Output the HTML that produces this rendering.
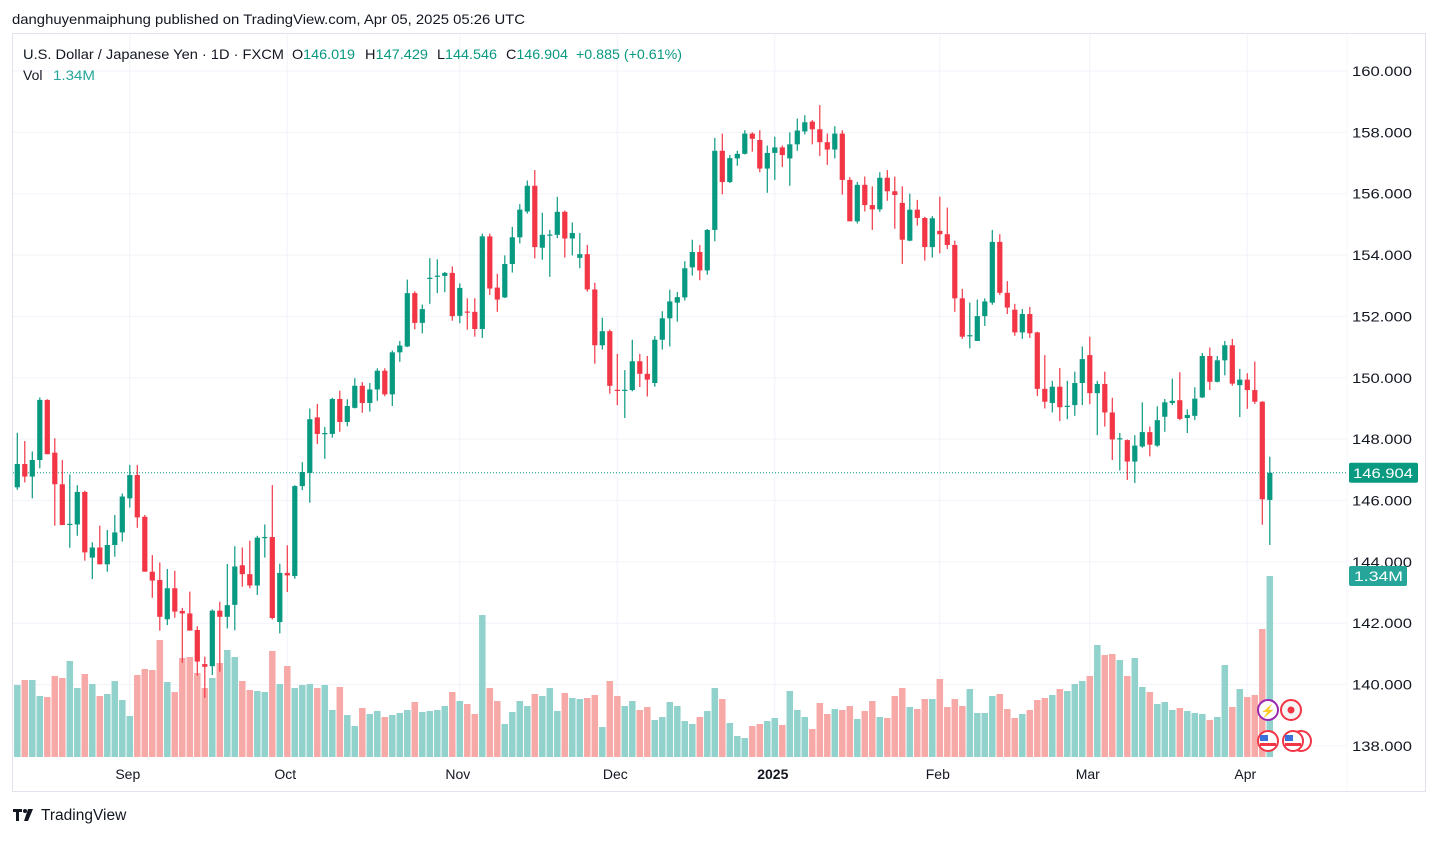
<!DOCTYPE html>
<html><head><meta charset="utf-8">
<style>
html,body{margin:0;padding:0;background:#fff;}
body{width:1438px;height:836px;overflow:hidden;font-family:"Liberation Sans",sans-serif;color:#131722;}
svg text{font-family:"Liberation Sans",sans-serif;}
</style></head>
<body>
<svg id="chart" width="1438" height="836" xmlns="http://www.w3.org/2000/svg">
  <text x="12" y="24" font-size="14" fill="#131722" textLength="513" lengthAdjust="spacingAndGlyphs">danghuyenmaiphung published on TradingView.com, Apr 05, 2025 05:26 UTC</text>
  <rect x="12.5" y="33.5" width="1413" height="758" fill="none" stroke="#e0e3eb"/>
  <g id="grid"></g>
  <g id="volumes"></g>
  <line x1="13" x2="1347" y1="0" y2="0" id="lastline" stroke="#089981" stroke-width="1" stroke-dasharray="1,2"/>
  <g id="candles"></g>
  <g id="yaxis"></g>
  <g id="xaxis"></g>
  <g font-size="14">
    <text x="23" y="59" fill="#131722" textLength="261" lengthAdjust="spacingAndGlyphs">U.S. Dollar / Japanese Yen · 1D · FXCM</text>
    <text x="292" y="59" fill="#131722" textLength="63" lengthAdjust="spacingAndGlyphs">O<tspan fill="#089981">146.019</tspan></text>
    <text x="365" y="59" fill="#131722" textLength="63" lengthAdjust="spacingAndGlyphs">H<tspan fill="#089981">147.429</tspan></text>
    <text x="437" y="59" fill="#131722" textLength="60" lengthAdjust="spacingAndGlyphs">L<tspan fill="#089981">144.546</tspan></text>
    <text x="506" y="59" fill="#131722" textLength="62" lengthAdjust="spacingAndGlyphs">C<tspan fill="#089981">146.904</tspan></text>
    <text x="576" y="59" fill="#089981" textLength="106" lengthAdjust="spacingAndGlyphs">+0.885 (+0.61%)</text>
    <text x="23" y="80" fill="#131722">Vol</text>
    <text x="53" y="80" fill="#26a69a" textLength="42" lengthAdjust="spacingAndGlyphs">1.34M</text>
  </g>
  <g>
    <circle cx="1268" cy="710" r="10" fill="#fff" stroke="#9c27b0" stroke-width="2"/>
    <text x="1268" y="715" font-size="12" text-anchor="middle" fill="#9c27b0">⚡</text>
    <circle cx="1291" cy="710" r="10" fill="#f5f5f5" stroke="#f23645" stroke-width="2"/>
    <circle cx="1291" cy="710" r="3.5" fill="#f23645"/>
    <circle cx="1301" cy="741" r="10" fill="#fff" stroke="#f23645" stroke-width="2"/>
    <circle cx="1293" cy="741" r="10" fill="#fff" stroke="#f23645" stroke-width="2"/>
    <rect x="1285" y="735" width="8" height="6" fill="#3b6fd9"/>
    <rect x="1285" y="743" width="16" height="3" fill="#f23645"/>
    <circle cx="1268" cy="741" r="10" fill="#fff" stroke="#f23645" stroke-width="2"/>
    <rect x="1260" y="735" width="8" height="6" fill="#3b6fd9"/>
    <rect x="1260" y="743" width="16" height="3" fill="#f23645"/>
  </g>
  <g>
    <path d="M13 809h9v3h-3v9h-3v-9h-3z" fill="#131722"/>
    <circle cx="25" cy="811" r="2" fill="#131722"/>
    <path d="M28 809h5l-5 12h-4z" fill="#131722"/>
    <text x="41" y="820" font-size="15.5" fill="#131722">TradingView</text>
  </g>
</svg>
<script>
const opens=[146.43,147.19,146.78,147.32,149.28,147.56,146.53,145.23,145.22,146.28,144.14,144.47,143.92,144.55,144.96,146.07,146.83,145.47,143.68,143.41,142.13,143.14,142.40,142.32,141.78,140.67,140.6,142.41,142.21,142.6,143.89,143.6,143.23,144.79,144.81,142.04,143.64,143.54,146.47,146.9,148.71,148.19,148.17,149.31,148.56,149.02,149.74,149.18,149.62,150.23,149.46,150.83,151.02,152.76,151.79,153.24,153.31,153.32,153.42,152.02,152.16,152.15,151.59,154.61,152.94,152.62,153.71,154.58,155.42,156.26,154.24,154.65,154.66,155.41,154.54,153.91,154.03,152.88,151.06,151.52,149.61,149.59,149.6,150.54,150.13,149.83,151.24,151.94,152.45,152.62,153.6,154.1,153.5,154.82,157.4,156.38,157.15,157.3,157.96,157.75,156.82,157.33,157.51,157.15,157.61,158.03,158.35,158.1,157.68,157.44,157.96,156.45,155.1,156.29,155.63,155.49,156.52,156.08,155.7,154.47,155.48,155.21,154.26,154.79,154.68,154.33,152.59,151.37,151.2,152.01,152.45,154.43,152.77,152.22,151.48,152.08,151.48,149.64,149.18,149.71,149.07,149.11,149.83,150.74,149.5,149.8,148.87,148.01,147.97,147.27,147.76,148.23,147.79,148.73,149.18,149.27,148.69,148.76,149.36,150.71,149.87,150.57,151.06,149.76,149.94,149.6,149.22,146.02];
const highs=[148.21,147.94,147.6,149.36,149.3,148.03,147.32,146.85,146.5,146.32,144.64,145.18,145.04,145.53,146.23,147.16,147.16,145.53,144.22,143.98,143.77,143.71,142.5,143.03,141.9,140.91,142.45,142.70,143.93,144.51,144.47,144.69,144.85,145.22,146.5,143.94,144.54,146.5,147.25,149.0,149.15,148.4,149.35,149.58,149.3,149.99,149.86,149.83,150.31,150.31,150.89,151.2,153.2,152.82,152.39,153.9,153.86,153.45,153.63,153.08,152.59,152.59,154.7,154.7,153.39,153.99,154.92,155.66,156.43,156.77,155.38,154.82,155.9,155.45,155.06,154.72,154.33,153.1,151.96,151.57,150.78,150.25,151.24,150.78,150.71,151.36,152.17,152.87,152.8,153.8,154.5,154.33,154.85,157.82,157.96,157.26,157.4,158.07,158.0,158.07,157.57,157.86,157.57,158.0,158.45,158.56,158.4,158.89,157.96,158.2,158.07,156.54,156.38,156.56,156.24,156.7,156.77,156.56,156.24,156.0,155.8,155.25,155.27,155.9,155.55,154.47,152.9,152.45,152.55,152.59,154.82,154.68,153.15,152.41,152.24,152.31,151.5,150.74,149.9,150.32,149.9,150.2,151.02,151.34,149.9,150.2,149.35,148.2,147.99,148.13,149.2,148.41,149.07,149.31,149.97,150.18,148.97,149.69,150.81,150.99,150.71,151.2,151.27,150.29,150.15,150.53,149.24,147.43];
const lows=[146.35,146.59,146.07,147.05,147.51,145.18,145.2,144.46,144.85,144.04,143.44,143.92,143.68,144.17,144.66,145.77,145.11,143.68,142.83,141.76,141.94,142.18,140.71,141.76,140.29,139.57,140.31,140.42,141.83,141.77,143.19,143.14,142.92,144.14,142.12,141.67,143.02,143.45,146.34,145.93,147.84,147.36,148.05,148.24,148.42,149.0,148.86,148.9,149.25,149.4,149.08,150.52,151.0,151.58,151.45,152.41,152.76,152.79,151.86,151.78,151.57,151.34,151.3,152.7,152.15,152.6,153.43,154.38,155.35,153.89,153.85,153.29,154.55,153.92,153.99,153.57,152.81,150.46,150.92,149.48,149.11,148.69,149.56,149.7,149.39,149.71,150.92,151.02,151.83,152.52,153.33,153.18,153.36,154.45,155.98,156.35,156.91,157.28,157.37,156.7,156.03,156.45,156.87,156.26,157.4,157.93,157.61,157.23,156.94,157.15,155.97,155.1,155.03,155.42,154.82,155.41,155.77,154.86,153.71,154.45,154.96,153.82,153.92,154.06,154.2,152.15,151.27,150.96,151.2,151.69,152.38,152.7,152.08,151.37,151.27,151.3,149.41,149.0,148.87,148.59,148.65,148.76,149.11,149.14,148.13,148.41,147.32,146.98,146.67,146.57,147.72,147.44,147.75,148.24,149.11,148.62,148.2,148.62,149.34,149.6,149.85,150.08,149.74,148.72,148.99,149.15,145.21,144.55];
const closes=[147.19,146.78,147.32,149.28,147.51,146.53,145.2,145.24,146.28,144.31,144.47,143.92,144.55,144.96,146.13,146.83,145.45,143.68,143.39,142.21,143.14,142.38,142.32,141.76,140.75,140.58,142.41,142.21,142.59,143.85,143.6,143.23,144.79,144.81,142.17,143.64,143.56,146.47,146.93,148.65,148.17,148.2,149.31,148.56,149.08,149.74,149.18,149.62,150.23,149.46,150.83,151.05,152.76,151.79,152.24,153.26,153.33,153.42,152.01,152.93,152.14,151.59,154.61,152.91,152.55,153.71,154.58,155.48,156.26,154.26,154.66,154.67,155.41,154.54,154.72,154.03,152.88,151.06,151.52,149.74,149.59,149.61,150.54,150.13,149.94,151.24,151.94,152.49,152.63,153.57,154.1,153.5,154.82,157.4,156.38,157.16,157.3,157.96,157.79,156.82,157.33,157.51,157.26,157.61,158.06,158.33,158.1,157.68,157.44,157.96,156.45,155.1,156.29,155.63,155.49,156.52,156.08,155.96,154.5,155.48,155.21,154.26,155.2,154.68,154.33,152.59,151.34,151.39,152.01,152.49,154.43,152.77,152.29,151.48,152.08,151.45,149.64,149.22,149.71,149.04,149.09,149.83,150.61,149.5,149.8,148.87,147.99,148.03,147.27,147.79,148.23,147.82,148.62,149.2,149.25,148.66,148.79,149.32,150.71,149.87,150.57,151.06,149.81,149.94,149.6,149.22,146.04,146.904];
const volumes=[72,77,77,61,60,81,79,96,69,83,73,61,63,76,57,41,82,88,87,117,75,65,99,100,84,69,79,94,107,100,76,67,66,65,106,73,91,69,72,73,69,72,47,70,42,31,49,43,46,40,42,44,47,55,45,46,47,51,65,56,53,43,142,69,56,33,45,56,51,63,61,69,46,64,59,58,59,62,30,76,61,51,56,47,50,37,40,55,51,36,33,40,46,69,58,34,21,19,31,33,36,39,32,66,47,40,28,54,43,48,47,51,38,46,56,40,39,61,69,50,48,58,58,78,50,58,51,68,44,44,61,63,48,39,43,47,57,59,62,68,66,73,76,81,112,102,103,97,81,99,70,65,53,55,47,49,46,44,43,37,40,92,50,68,60,62,128,181];
const priceTicks=[160,158,156,154,152,150,148,146,144,142,140,138];
const monthLabels=["Sep","Oct","Nov","Dec","2025","Feb","Mar","Apr"];
const monthIndex=[15,36,59,80,101,123,143,164];
const lastPrice=146.904;
const lastVolumeLabel="1.34M";

const NS="http://www.w3.org/2000/svg";
function xS(i){return 17.3+i*7.5;}
function yS(p){return 71+(160-p)*30.68;}
const VOL_BASE=757, VOL_MAX=181;
function vS(v){return v/VOL_MAX*181;}
function mk(tag,attrs,parent){const e=document.createElementNS(NS,tag);for(const k in attrs)e.setAttribute(k,attrs[k]);parent.appendChild(e);return e;}

const grid=document.getElementById('grid');
priceTicks.forEach(function(t){
  const l=mk('line',{x1:13,x2:1347,y1:yS(t),y2:yS(t),stroke:'#f0f3fa'},grid);
  
  
});
monthIndex.forEach(function(i){
  const l=mk('line',{x1:xS(i),x2:xS(i),y1:34,y2:757,stroke:'#f0f3fa'},grid);
  
  
});
mk('line',{x1:1347,x2:1347,y1:34,y2:791,stroke:'#f6f7f9'},grid);

const vg=document.getElementById('volumes');
volumes.forEach(function(v,i){
  const up=closes[i]>=opens[i];
  const h=vS(v);
  const r=mk('rect',{x:xS(i)-3.25,y:VOL_BASE-h,width:6.5,height:h,fill:up?'#92d2cc':'#f7a9a7'},vg);
  
  
});

const cg=document.getElementById('candles');
opens.forEach(function(o,i){
  const c=closes[i],up=c>=o,col=up?'#089981':'#f23645';
  const g=mk('g',{},cg);
  
  
  mk('line',{x1:xS(i),x2:xS(i),y1:yS(highs[i]),y2:yS(lows[i]),stroke:col,'stroke-width':1.2},g);
  const top=yS(Math.max(o,c)),bot=yS(Math.min(o,c));
  mk('rect',{x:xS(i)-2.6,y:top,width:5.2,height:Math.max(1.2,bot-top),fill:col},g);
});

const ll=document.getElementById('lastline');
ll.setAttribute('y1',yS(lastPrice));ll.setAttribute('y2',yS(lastPrice));

const ya=document.getElementById('yaxis');
priceTicks.forEach(function(t){
  const tx=mk('text',{x:1352,y:yS(t)+5,'font-size':14,fill:'#131722',textLength:60,lengthAdjust:'spacingAndGlyphs'},ya);
  tx.textContent=t.toFixed(3);
  
  
});
const pb=mk('rect',{x:1349,y:yS(lastPrice)-10,width:69,height:20,fill:'#089981',rx:2},ya);


const pt=mk('text',{x:1353,y:yS(lastPrice)+5,'font-size':14,fill:'#fff',textLength:60,lengthAdjust:'spacingAndGlyphs'},ya);
pt.textContent=lastPrice.toFixed(3);


const vbY=VOL_BASE-vS(volumes[volumes.length-1]);
const vb=mk('rect',{x:1349,y:vbY-10,width:58,height:20,fill:'#26a69a',rx:2},ya);


const vt=mk('text',{x:1354,y:vbY+5,'font-size':14,fill:'#fff',textLength:49,lengthAdjust:'spacingAndGlyphs'},ya);
vt.textContent=lastVolumeLabel;



const xa=document.getElementById('xaxis');
monthLabels.forEach(function(m,k){
  const t=mk('text',{x:xS(monthIndex[k])-2,y:779,'font-size':14,'text-anchor':'middle',fill:'#131722','font-weight':m==='2025'?'bold':'normal'},xa);
  t.textContent=m;
  
  
});
</script>
</body></html>
